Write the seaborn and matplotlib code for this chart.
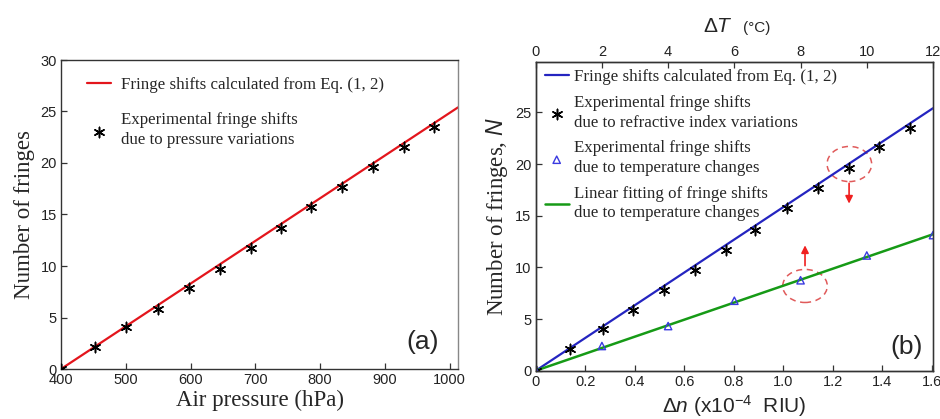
import numpy as np
import pandas as pd
import matplotlib
matplotlib.use("Agg")
import matplotlib.pyplot as plt
from matplotlib.patches import Ellipse
import seaborn as sns

# ---------------- data ----------------
# panel (a)
pressure_hpa = [400, 452, 501, 550, 598, 645, 693, 739, 786, 834, 881, 929, 976]
fringes_a = [0.0, 2.1, 4.05, 5.85, 7.83, 9.7, 11.7, 13.66, 15.75, 17.64, 19.64, 21.6, 23.5]
calc_a_x = [400, 1013]
calc_a_y = [0.0, 25.4]

# panel (b)
dn_ri = [0.0, 0.139, 0.273, 0.394, 0.52, 0.644, 0.768, 0.886, 1.014, 1.142, 1.267, 1.388, 1.512]
fringes_ri = [0.0, 2.1, 4.05, 5.85, 7.83, 9.7, 11.7, 13.66, 15.75, 17.64, 19.64, 21.6, 23.5]
calc_b_x = [0.0, 1.605]
calc_b_y = [0.0, 25.4]
dn_temp = [0.0, 0.2675, 0.535, 0.8025, 1.07, 1.3375, 1.605]
fringes_temp = [0.0, 2.39, 4.32, 6.77, 8.75, 11.15, 13.12]
fit_temp_x = [0.0, 1.605]
fit_temp_y = [0.0, 13.2]

xticks_a = [400, 500, 600, 700, 800, 900, 1000]
yticks_a = [0, 5, 10, 15, 20, 25, 30]
xticks_b = [0, 0.2, 0.4, 0.6, 0.8, 1.0, 1.2, 1.4, 1.6]
xticklabels_b = ["0", "0.2", "0.4", "0.6", "0.8", "1.0", "1.2", "1.4", "1.6"]
yticks_b = [0, 5, 10, 15, 20, 25]
top_ticks_b = [0, 2, 4, 6, 8, 10, 12]

lab_calc = "Fringe shifts calculated from Eq. (1, 2)"
lab_exp_p = "Experimental fringe shifts\ndue to pressure variations"
lab_exp_ri = "Experimental fringe shifts\ndue to refractive index variations"
lab_exp_t = "Experimental fringe shifts\ndue to temperature changes"
lab_fit_t = "Linear fitting of fringe shifts\ndue to temperature changes"

# ---------------- style ----------------
sns.set_theme(style="ticks")
plt.rcParams["font.family"] = ["Liberation Sans", "DejaVu Sans"]
plt.rcParams["mathtext.fontset"] = "custom"
plt.rcParams["mathtext.rm"] = "Liberation Sans"
plt.rcParams["mathtext.it"] = "Liberation Sans:italic"

SERIF = ["Liberation Serif", "DejaVu Serif"]
RED = "#e3151c"
BLUE = "#2424c0"
GREEN = "#169a16"
TRI = "#3a3ae0"
ASTER = (6, 2, 0)
LEGSIZE = 12.2

fig = plt.figure(figsize=(9.4, 4.19), dpi=100)
W, H = 940, 419


def place(l, t, r, b):
    return fig.add_axes([l / W, 1 - b / H, (r - l) / W, (b - t) / H])


axa = place(61, 60, 458, 369)
axb = place(535.7, 61.7, 933, 370.7)

# ---------------- panel (a) ----------------
sns.lineplot(x=calc_a_x, y=calc_a_y, ax=axa, color=RED, lw=1.6, label=lab_calc)
sns.scatterplot(x=pressure_hpa, y=fringes_a, ax=axa, marker=ASTER, s=55,
                color="black", edgecolor="black", linewidth=1.1, label=lab_exp_p, zorder=3)
axa.set_xlim(400, 1013)
axa.set_ylim(0, 30)
axa.set_xticks(xticks_a)
axa.set_yticks(yticks_a)
axa.set_xlabel("Air pressure (hPa)", family=SERIF, fontsize=16.5, labelpad=2)
axa.set_ylabel("Number of fringes", family=SERIF, fontsize=16.5, labelpad=4)
axa.text(0.912, 0.088, "(a)", transform=axa.transAxes, fontsize=19,
         ha="center", va="center")
lega = axa.legend(loc="upper left", bbox_to_anchor=(0.065, 0.945), frameon=False,
                  prop={"family": SERIF, "size": LEGSIZE}, handlelength=1.4,
                  handletextpad=0.6, labelspacing=1.15, borderpad=0, borderaxespad=0)
for t in lega.get_texts():
    t.set_linespacing(1.3)

# ---------------- panel (b) ----------------
sns.lineplot(x=calc_b_x, y=calc_b_y, ax=axb, color=BLUE, lw=1.6, label=lab_calc)
sns.scatterplot(x=dn_ri, y=fringes_ri, ax=axb, marker=ASTER, s=55,
                color="black", edgecolor="black", linewidth=1.1, label=lab_exp_ri, zorder=3)
sns.scatterplot(x=dn_temp, y=fringes_temp, ax=axb, marker="^", s=28,
                color=TRI, edgecolor=TRI, linewidth=1.0, label=lab_exp_t, zorder=4)
axb.collections[-1].set_facecolor("none")
sns.lineplot(x=fit_temp_x, y=fit_temp_y, ax=axb, color=GREEN, lw=1.8, label=lab_fit_t)
axb.set_xlim(0, 1.605)
axb.set_ylim(0, 29.9)
axb.set_xticks(xticks_b)
axb.set_xticklabels(xticklabels_b)
axb.set_yticks(yticks_b)
axb.set_xlabel(r"$\Delta\mathit{n}$ (x10$^{-4}$  RIU)", fontsize=15, labelpad=3)
axb.set_ylabel(r"Number of fringes, $\mathit{N}$", family=SERIF, fontsize=16.5, labelpad=4)
axb.text(0.934, 0.077, "(b)", transform=axb.transAxes, fontsize=19,
         ha="center", va="center")
handles, labels = axb.get_legend_handles_labels()
order = [lab_calc, lab_exp_ri, lab_exp_t, lab_fit_t]
hmap = dict(zip(labels, handles))
legb = axb.legend([hmap[k] for k in order], order, loc="upper left",
                  bbox_to_anchor=(0.023, 0.976), frameon=False,
                  prop={"family": SERIF, "size": LEGSIZE}, handlelength=1.4,
                  handletextpad=0.35, labelspacing=0.58, borderpad=0, borderaxespad=0)
for t in legb.get_texts():
    t.set_linespacing(1.3)

# annotations (ellipses + arrows)
ell_ri = (1.267, 20.0)
ell_t = (1.088, 8.2)
axb.add_patch(Ellipse(ell_ri, 0.18, 3.4, fill=False, ec="#e05a5a", ls=(0, (4, 3)), lw=1.1))
axb.add_patch(Ellipse(ell_t, 0.18, 3.2, fill=False, ec="#e05a5a", ls=(0, (4, 3)), lw=1.1))
axb.annotate("", xy=(1.266, 15.9), xytext=(1.266, 18.4),
             arrowprops=dict(arrowstyle="-|>", color="#f02020", lw=1.2, mutation_scale=11))
axb.annotate("", xy=(1.088, 12.4), xytext=(1.088, 9.9),
             arrowprops=dict(arrowstyle="-|>", color="#f02020", lw=1.2, mutation_scale=11))

# top axis: temperature
axt = axb.twiny()
axt.set_xlim(0, 12)
axt.set_xticks(top_ticks_b)
fig.text(0.764, 0.936, r"$\Delta\mathit{T}$", fontsize=15, ha="center", va="center")
fig.text(0.805, 0.933, "(°C)", fontsize=11, ha="center", va="center")

for ax in (axa, axb, axt):
    for sp in ax.spines.values():
        sp.set_visible(True)
        sp.set_color("#333333")
        sp.set_linewidth(1.0)
    ax.tick_params(direction="in", length=4, width=0.9, labelsize=10.5, colors="#333333",
                   labelcolor="#222222", pad=3)
axa.tick_params(top=False, right=False)
axb.tick_params(top=False, right=False)
axt.tick_params(axis="x", top=True, bottom=False, labeltop=True, pad=2)
for ax in (axa, axb):
    ax.spines["right"].set_color("#888888")

fig.savefig("out.png", dpi=100)
